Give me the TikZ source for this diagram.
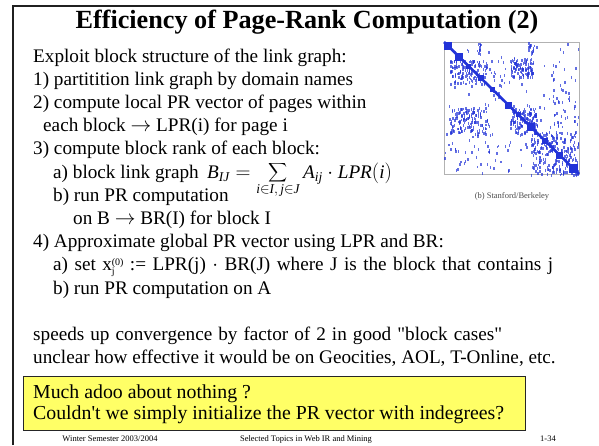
\documentclass[tikz,border=0pt]{standalone}
\usepackage{fontspec}
\usepackage{graphicx}
\setmainfont{Liberation Serif}[Ligatures=TeXOff]
\usetikzlibrary{positioning}

\definecolor{noteyellow}{HTML}{FFFF66}
\definecolor{dotblue}{HTML}{2233D8}
\definecolor{frameline}{HTML}{202020}

\newcommand{\idx}[2]{x\rlap{\raisebox{-3.5pt}{\fontsize{10}{10}\selectfont #1}}\raisebox{5.5pt}{\fontsize{10}{10}\selectfont #2}}

\tikzset{
  body/.style={anchor=base west, inner sep=0pt, font=\fontsize{19.2}{23}\selectfont},
  title/.style={inner sep=0pt, font=\fontsize{26.2}{30}\selectfont\bfseries},
  foot/.style={anchor=base, inner sep=0pt, font=\fontsize{8.5}{10}\selectfont},
  note/.style={draw=black!85, fill=noteyellow, line width=0.8pt},
  notetext/.style={anchor=base west, inner sep=0pt, font=\fontsize{19.8}{21}\selectfont},
  dot/.style={fill=dotblue, opacity=0.7}
}

\begin{document}
\begin{tikzpicture}[x=1pt, y=-1pt]
  \useasboundingbox (0,0) rectangle (599,445);

  % slide frame
  \draw[frameline, line width=2pt] (13,445) -- (13,6) -- (599,6);

  \node[title] (title) at (307,22) {Efficiency of Page-Rank Computation (2)};

  % text lines
  \node[body] (intro) at (33,62) {Exploit block structure of the link graph:};
  \node[body] (s1) at (33,85.2) {1) partitition link graph by domain names};
  \node[body] (s2) at (33,108.4) {2) compute local PR vector of pages within};
  \node[body] (s2b) at (43,131.6) {each block $\rightarrow$ LPR(i) for page i};
  \node[body] (s3) at (33,154.8) {3) compute block rank of each block:};
  \node[body] (s3a) at (53,178) {a) block link graph};
  \node[body] (formula) at ([xshift=8pt]s3a.base east)
    {$\mathit{B}_{\mathit{IJ}} = \mathop{\vcenter{\hbox{\scalebox{1.32}{$\displaystyle\sum$}}}}\limits_{\mathit{i}\in \mathit{I},\, \mathit{j}\in \mathit{J}}\mathit{A}_{\mathit{ij}}\cdot \mathit{LPR}(\mathit{i})$};
  \node[body] (s3b) at (53,201.2) {b) run PR computation};
  \node[body] (s3c) at (73,224.4) {on B $\rightarrow$ BR(I) for block I};
  \node[body] (s4) at (33,247.6) {4) Approximate global PR vector using LPR and BR:};
  \node[body] (s4a) at (53,270.8) {\makebox[500pt][s]{a) set \idx{j}{(0)} := LPR(j) $\cdot$ BR(J) where J is the block that contains j}};
  \node[body] (s4b) at (53,294) {b) run PR computation on A};
  \node[body] (speed) at (33,340.4) {\makebox[469pt][s]{speeds up convergence by factor of 2 in good "block cases"}};
  \node[body] (unclear) at (33,363.6) {unclear how effective it would be on Geocities, AOL, T-Online, etc.};

  % highlighted question
  \draw[note] (23,376) rectangle (525,430);
  \node[notetext] (adoo) at (33,398) {Much adoo about nothing ?};
  \node[notetext] (indeg) at (33,419.5) {Couldn't we simply initialize the PR vector with indegrees?};

  % block matrix plot
  \fill[white] (444,42) rectangle (579,174);
  \draw[black!30, line width=0.5pt] (444,42) rectangle (579,174);
  \pgfmathsetseed{11}
  \foreach \x/\y/\w/\h/\n in {
      444/42/135/132/110,
      477/42/4/12/12, 528/42/5/12/14,
      450/60/37/23/120, 510/58/23/19/100,
      450/107/37/26/130, 510/107/27/26/130,
      530/130/48/44/230, 550/60/28/67/45,
      450/140/60/30/35, 490/60/15/45/20} {
    \foreach \k in {1,...,\n} {
      \pgfmathsetmacro\px{\x+rnd*\w}
      \pgfmathsetmacro\py{\y+rnd*\h}
      \fill[dot] (\px,\py) rectangle ++(1.4,2.8);
    }
  }
  \draw[dotblue, line width=2.6pt] (444,42) -- (579,174);
  \foreach \a/\s in {444/8, 455/8, 466/5, 478/6, 490/5, 505/7, 516/5, 527/8, 542/6, 556/7, 569/9} {
    \pgfmathsetmacro\b{42+(\a-444)/135*132}
    \fill[dotblue] (\a,\b) rectangle ++(\s,\s);
  }
  \node[foot, text=black!70] (caption) at (512,198) {(b) Stanford/Berkeley};

  % footer
  \node[foot] (term) at (110,441.5) {Winter Semester 2003/2004};
  \node[foot] (course) at (306,441.5) {Selected Topics in Web IR and Mining};
  \node[foot] (page) at (548,441.5) {1-34};
\end{tikzpicture}
\end{document}
